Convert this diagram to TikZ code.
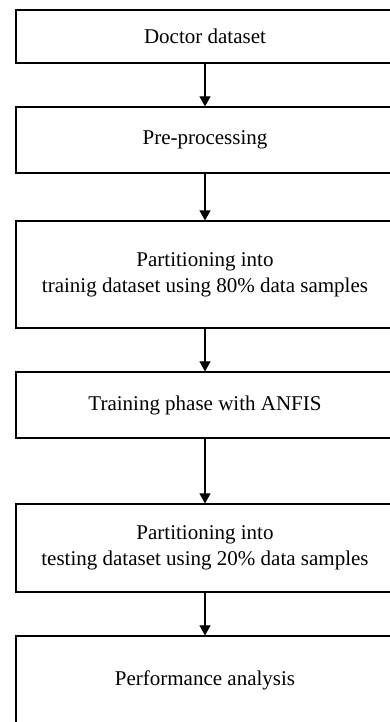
\documentclass[tikz,border=0pt]{standalone}
\usepackage{fontspec}
\setmainfont{Liberation Serif}
\usetikzlibrary{arrows.meta}
\begin{document}
\begin{tikzpicture}[x=1pt,y=-1pt,
  stepbox/.style={draw=black, line width=1.2pt, minimum width=378pt, inner sep=0pt,
    align=center, font=\fontsize{21}{26}\selectfont},
  flow/.style={line width=1.1pt, -{Triangle[width=11pt,length=10pt]}}]
\clip (0,0) rectangle (390,722);
\fill[white] (0,0) rectangle (390,722);
\node[stepbox, minimum height=53pt]  (b1) at (205,36.5) {Doctor dataset};
\node[stepbox, minimum height=66pt]  (b2) at (205,140) {Pre-processing};
\node[stepbox, minimum height=107pt] (b3) at (205,274.5) {Partitioning into\\trainig dataset using 80\% data samples};
\node[stepbox, minimum height=66pt]  (b4) at (205,405) {Training phase with ANFIS};
\node[stepbox, minimum height=88pt]  (b5) at (205,548) {Partitioning into\\testing dataset using 20\% data samples};
\node[stepbox, minimum height=88pt]  (b6) at (205,680) {Performance analysis};
\draw[flow] (b1) -- (b2);
\draw[flow] (b2) -- (b3);
\draw[flow] (b3) -- (b4);
\draw[flow] (b4) -- (b5);
\draw[flow] (b5) -- (b6);
\end{tikzpicture}
\end{document}
